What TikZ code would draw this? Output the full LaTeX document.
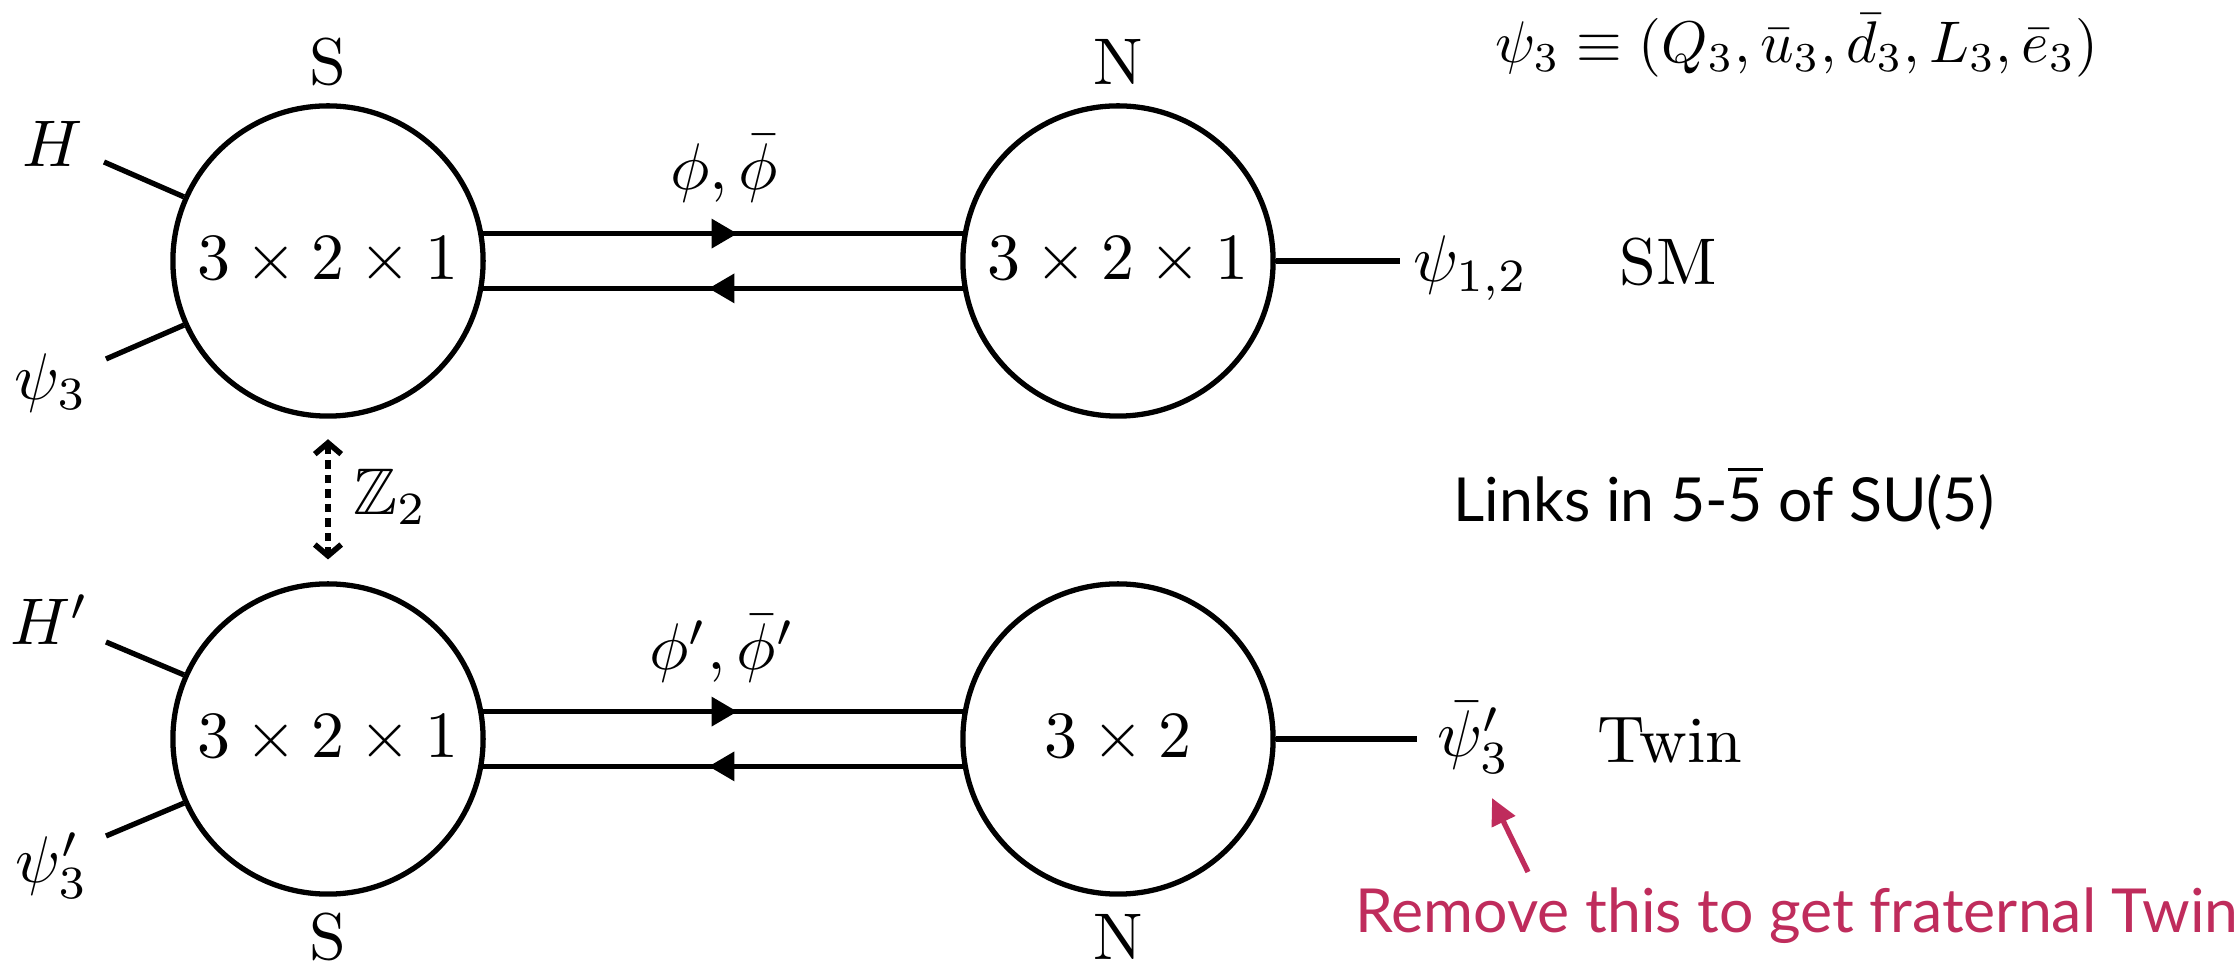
\documentclass[tikz,border=0pt]{standalone}
\usepackage{amssymb}
\usepackage{fontspec}
\newfontfamily\notefont{Lato}
\usetikzlibrary{arrows.meta,decorations.markings}
\definecolor{remark}{HTML}{BF2C5C}

\tikzset{
  group/.style={circle,draw,line width=0.8pt,minimum size=47pt,inner sep=0pt},
  link/.style={line width=0.8pt},
  flow/.style={link,postaction={decorate},
    decoration={markings,mark=at position 0.53 with {\arrow{Triangle[length=3.9pt,width=4.3pt]}}}},
  twinmap/.style={line width=0.85pt,dash pattern=on 1.3pt off 0.9pt,
    {Straight Barb[length=1.7pt,width=4pt]}-{Straight Barb[length=1.7pt,width=4pt]},
    shorten <=3.1pt,shorten >=3.3pt},
  remarkarrow/.style={line width=0.8pt,color=remark,-{Triangle[length=4pt,width=3.8pt]}},
  sans/.style={font=\notefont\fontsize{9.2}{11}\selectfont},
  side/.style={inner sep=1pt},
}

\begin{document}
\begin{tikzpicture}[x=0.1515pt,y=-0.1515pt]
\useasboundingbox (0,0) rectangle (2239,962);

% gauge groups
\node[group] (S1) at (328,261) {$3\times2\times1$};
\node[group] (N1) at (1118,261) {$3\times2\times1$};
\node[group] (S2) at (328,739) {$3\times2\times1$};
\node[group] (N2) at (1118,739) {$3\times2$};

\node[side] (S1lab) at (328,62) {S};
\node[side] (N1lab) at (1118,62) {N};
\node[side] (S2lab) at (328,937) {S};
\node[side] (N2lab) at (1118,937) {N};

% link fields
\draw[flow] (S1.10) -- (N1.170);
\draw[flow] (N1.190) -- (S1.350);
\draw[flow] (S2.10) -- (N2.170);
\draw[flow] (N2.190) -- (S2.350);
\node[anchor=base] (phi) at (724,190) {$\phi,\bar\phi$};
\node[anchor=base] (phip) at (722,670) {$\phi',\bar\phi'$};

% external legs
\coordinate (hS1) at (104,162);
\coordinate (pS1) at (106,359);
\coordinate (hS2) at (106,642);
\coordinate (pS2) at (106,836);
\draw[link] (S1.156) -- (hS1);
\draw[link] (S1.204) -- (pS1);
\draw[link] (S2.156) -- (hS2);
\draw[link] (S2.204) -- (pS2);
\node (H) at (53,144) {$H$};
\node (psi) at (51,383) {$\psi_3$};
\node (Hp) at (50,620) {$H'$};
\node (psip) at (52,866) {$\psi'_3$};

\coordinate (eN1) at (1400,261);
\coordinate (eN2) at (1417,739);
\draw[link] (N1.east) -- (eN1);
\draw[link] (N2.east) -- (eN2);
\node[anchor=base west,inner sep=0pt] (psi12) at (1412,282) {$\psi_{1,2}$};
\node[anchor=base west,inner sep=0pt] (psibar) at (1436,757) {$\bar\psi'_3$};
\node[anchor=base] (SM) at (1668,285) {SM};
\node[anchor=base] (Twin) at (1670,763) {Twin};

% Z2 exchange
\draw[twinmap] (S1.south) -- (S2.north);
\node[anchor=west,inner sep=0pt] (Z2) at (352,497) {$\mathbb{Z}_2$};

% annotations
\node[anchor=base,scale=0.89] (content) at (1797,63) {$\psi_3\equiv(Q_3,\bar u_3,\bar d_3,L_3,\bar e_3)$};
\node[sans,anchor=base] (links) at (1724,522) {Links in 5-$\overline{\hbox{\notefont\fontsize{9.2}{11}\selectfont 5}}$ of SU(5)};
\node[sans,anchor=base,text=remark] (note) at (1797,933) {Remove this to get fraternal Twin};
\coordinate (noteTail) at (1528,872);
\coordinate (noteTip) at (1492,798);
\draw[remarkarrow] (noteTail) -- (noteTip);
\end{tikzpicture}
\end{document}
